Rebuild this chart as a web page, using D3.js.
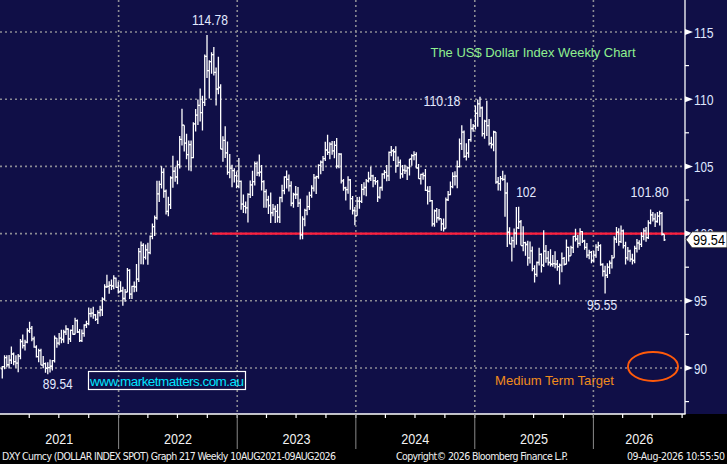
<!DOCTYPE html>
<html>
<head>
<meta charset="utf-8">
<script src="https://cdn.jsdelivr.net/npm/d3@7"></script>
<style>
html, body { margin: 0; padding: 0; background: #000; }
svg { display: block; font-family: "Liberation Sans", Arial, sans-serif; }
</style>
</head>
<body>
<div id="chart"></div>
<script>
'use strict';

// weekly DXY bars as [high, low, close], week ending friday, first week ends 8 Jan 2021
const firstWeek = new Date(2021, 0, 8);
const firstOpen = 89.94;

const dxy2021 = [
  [90.15,89.21,90.10],[90.95,89.91,90.77],[90.95,90.05,90.24],[90.96,89.97,90.58],
  [91.60,90.30,91.04],[91.15,90.20,90.48],[90.95,90.02,90.36],[91.05,89.68,90.88],
  [92.16,90.65,91.97],[92.50,91.45,91.67],[92.10,91.30,91.92],[92.96,91.85,92.77],
  [93.44,92.60,92.95],[93.12,91.99,92.17],[92.34,91.50,91.56],[91.70,90.79,90.85],
  [91.43,90.42,91.30],[91.44,90.20,90.22],[90.90,89.98,90.32],[90.40,89.65,89.98],
  [90.42,89.53,90.03],[90.63,89.66,90.13],[90.60,89.81,90.55],[92.41,90.40,92.23],
  [92.05,91.51,91.85],[92.61,91.70,92.23],[92.84,91.85,92.12],[92.84,91.88,92.68],
  [93.19,92.45,92.90],[92.95,91.78,92.17],[92.87,91.94,92.80],[93.20,92.47,92.51],
  [93.73,92.50,93.52],[93.60,92.61,92.68],[92.90,91.94,92.03],[92.86,91.94,92.58],
  [93.25,92.32,93.20],[93.52,92.97,93.30],[94.50,93.18,94.04],[94.45,93.78,94.08],
  [94.56,93.67,93.96],[94.02,93.50,93.62],[94.29,93.28,94.12],[94.63,93.84,94.33],
  [95.27,93.87,95.13],[96.24,95.00,96.04],[96.94,95.95,96.08],[96.46,95.52,96.15],
  [96.59,95.81,96.10],[96.91,95.86,96.68],[96.74,95.98,96.00],[96.41,95.54,95.67]
];
const dxy2022 = [
  [96.46,95.66,95.74],[96.05,94.63,95.17],[95.87,94.93,95.64],[97.44,95.67,97.27],
  [97.34,95.14,95.49],[96.12,95.14,96.07],[96.44,95.63,96.03],[97.73,95.67,96.61],
  [98.92,96.40,98.66],[99.42,97.72,99.12],[99.29,97.71,98.23],[99.19,98.07,98.79],
  [99.31,97.69,98.58],[99.85,98.47,99.80],[100.76,99.58,100.52],[101.35,99.82,101.18],
  [103.93,101.03,102.96],[103.93,102.35,103.66],[105.01,103.35,104.56],[104.86,102.66,103.15],
  [103.29,101.43,101.66],[102.74,101.30,102.15],[104.26,101.83,104.15],[105.79,103.41,104.64],
  [104.95,103.86,104.21],[105.43,103.67,105.13],[107.27,104.85,107.01],[109.29,106.56,108.07],
  [108.04,106.11,106.73],[107.43,105.54,105.88],[106.93,104.69,106.62],[106.93,104.64,105.65],
  [108.28,105.61,108.17],[109.27,107.59,108.82],[109.98,108.08,109.54],[110.79,108.35,109.00],
  [110.26,107.68,109.76],[113.33,109.49,113.19],[114.78,111.57,112.12],[112.90,110.05,112.80],
  [113.49,111.90,113.31],[113.89,111.76,111.99],[112.35,109.54,110.76],[113.15,110.37,110.87],
  [111.12,106.27,106.29],[107.25,105.34,106.93],[107.99,105.62,106.00],[106.86,104.37,104.55],
  [105.92,104.12,104.87],[105.12,103.44,104.69],[104.86,103.80,104.31],[104.62,103.38,103.52]
];
const dxy2023 = [
  [105.63,103.37,103.88],[103.95,101.77,102.20],[102.90,101.53,102.02],[102.38,101.50,101.92],
  [103.01,100.82,102.92],[103.96,102.64,103.63],[104.67,102.79,103.86],[105.36,103.57,105.21],
  [105.36,104.28,104.52],[105.88,104.25,104.58],[105.11,103.20,103.86],[103.97,101.92,103.12],
  [103.30,101.92,102.51],[102.82,101.45,102.09],[103.06,100.79,101.55],[102.21,101.29,101.83],
  [102.10,100.79,101.66],[102.21,100.82,101.22],[102.74,100.78,102.68],[103.63,102.33,103.20],
  [104.26,102.92,104.21],[104.70,103.36,104.04],[104.40,103.14,103.56],[103.90,102.04,102.26],
  [103.04,101.92,102.91],[103.54,102.57,102.91],[103.46,101.98,102.27],[102.59,99.57,99.91],
  [101.30,99.58,101.07],[101.84,100.55,101.73],[102.84,101.37,102.00],[103.12,101.75,102.84],
  [103.59,102.67,103.39],[104.44,103.13,104.14],[104.30,102.94,104.24],[105.16,104.08,105.08],
  [105.43,104.42,105.32],[105.78,104.66,105.58],[106.84,105.40,106.22],[107.35,105.85,106.04],
  [106.79,105.53,106.65],[106.89,105.86,106.16],[106.89,105.61,106.56],[107.11,104.84,105.02],
  [106.00,104.87,105.91],[105.97,103.72,103.92],[104.06,103.18,103.40],[103.48,102.46,103.27],
  [104.26,102.97,104.00],[104.07,101.77,102.60],[102.80,101.42,101.72],[101.98,100.62,101.33]
];
const dxy2024 = [
  [102.73,101.34,102.42],[102.75,101.85,102.40],[103.69,102.28,103.29],[103.82,102.86,103.43],
  [104.06,102.77,103.92],[104.60,103.80,104.10],[104.97,103.92,104.29],[104.37,103.44,103.94],
  [104.21,103.63,103.86],[103.99,102.35,102.71],[103.48,102.59,103.43],[104.49,103.19,104.43],
  [104.73,104.09,104.55],[105.10,103.89,104.30],[106.11,103.92,106.04],[106.52,105.76,106.15],
  [106.29,105.40,106.09],[106.49,104.52,105.03],[105.74,104.97,105.30],[105.51,104.08,104.45],
  [105.10,104.15,104.72],[105.12,104.43,104.67],[104.99,103.99,104.89],[105.53,104.32,105.55],
  [105.91,105.05,105.80],[106.13,105.46,105.87],[106.05,104.86,104.88],[105.18,104.08,104.09],
  [104.46,103.65,104.40],[104.55,104.01,104.32],[104.80,103.17,103.21],[103.53,102.16,103.14],
  [103.55,102.36,102.45],[102.50,100.53,100.72],[101.80,100.51,101.70],[101.90,100.81,101.18],
  [101.83,100.98,101.11],[101.09,100.21,100.72],[101.12,100.16,100.38],[102.69,100.58,102.52],
  [103.17,102.42,102.90],[103.87,102.85,103.49],[104.57,103.38,104.26],[104.63,103.57,104.28],
  [105.44,103.37,104.99],[107.07,104.92,106.69],[108.07,106.22,107.55],[107.67,105.64,105.74],
  [106.73,105.43,105.99],[107.04,105.65,106.99],[108.54,106.84,107.82],[108.16,107.58,108.00]
];
const dxy2025 = [
  [109.54,107.74,108.95],[109.97,107.95,109.65],[110.18,108.68,109.35],[109.45,107.23,107.44],
  [108.48,107.06,108.37],[109.88,107.26,108.04],[108.52,106.56,106.71],[107.20,106.34,106.63],
  [107.65,106.12,107.56],[107.39,103.70,103.84],[104.22,103.20,103.72],[104.28,103.19,104.09],
  [104.68,103.94,104.04],[104.37,101.26,103.02],[103.80,99.01,100.10],[100.47,99.21,99.23],
  [99.76,97.92,99.47],[100.38,98.94,100.03],[101.98,99.17,100.42],[102.00,100.35,100.88],
  [101.01,99.28,99.11],[100.54,98.69,99.33],[99.39,98.35,99.19],[99.47,97.60,98.19],
  [99.42,97.77,98.71],[99.04,97.20,97.40],[97.65,96.37,96.97],[97.92,96.79,97.85],
  [98.95,97.63,98.46],[98.54,97.11,97.65],[100.25,97.52,98.69],[99.16,97.84,98.18],
  [98.71,97.63,97.85],[98.84,97.55,97.72],[98.41,97.54,97.77],[98.68,97.42,97.73],
  [98.04,97.23,97.55],[97.78,96.22,97.65],[98.60,97.13,98.15],[98.26,97.62,97.72],
  [99.56,97.79,98.98],[99.03,97.92,98.35],[99.10,98.36,98.95],[99.84,98.56,99.80],
  [100.36,99.42,99.60],[99.90,98.95,99.28],[100.40,99.10,100.15],[100.20,99.30,99.45],
  [99.55,98.80,98.98],[99.30,98.20,98.40],[98.80,98.10,98.60],[98.70,97.80,98.00]
];
const dxy2026 = [
  [98.70,97.85,98.40],[99.20,98.20,99.00],[99.40,98.70,99.10],[99.20,97.60,97.70],
  [97.80,96.80,97.20],[97.60,95.55,96.90],[97.80,96.70,97.50],[98.00,97.00,97.80],
  [98.40,97.40,98.20],[99.80,98.40,99.60],[100.50,99.30,100.10],[100.40,99.10,99.40],
  [100.60,99.30,100.20],[100.30,98.90,99.10],[99.40,97.70,98.20],[99.00,98.00,98.70],
  [98.80,97.90,98.10],[98.50,97.70,98.00],[99.10,97.80,98.90],[99.60,98.60,99.30],
  [99.50,98.80,99.20],[100.10,99.00,99.80],[100.40,99.50,100.20],[100.50,99.40,99.70],
  [101.00,99.60,100.80],[101.80,100.70,101.40],[101.60,100.90,101.10],[101.50,100.50,100.90],
  [101.60,100.80,101.30],[101.70,100.60,101.50],[101.60,99.85,99.95],[99.95,99.45,99.54]
];

const yTicks = [90, 95, 100, 105, 110, 115];
const yMinor = [87.5, 92.5, 97.5, 102.5, 107.5, 112.5];
const years = [2021, 2022, 2023, 2024, 2025, 2026];
const supportLevel = 100;
const supportFrom = new Date(2022, 9, 16);
const targetLevel = 90;
const lastValue = 99.54;

const footerLeft = "DXY Curncy (DOLLAR INDEX SPOT) Graph 217 Weekly 10AUG2021-09AUG2026";
const footerMid = "Copyright\u00A9 2026 Bloomberg Finance L.P.";
const footerRight = "09-Aug-2026 10:55:50";

// ---- build bars
const weekly = [].concat(dxy2021, dxy2022, dxy2023, dxy2024, dxy2025, dxy2026);
const bars = weekly.map(function(d, i) {
  const open = i === 0 ? firstOpen : weekly[i - 1][2];
  return {
    date: d3.timeDay.offset(firstWeek, i * 7),
    open: open,
    high: Math.max(d[0], open, d[2]),
    low: Math.min(d[1], open, d[2]),
    close: d[2]
  };
});

const width = 727, height = 464;
const plotRight = 685, plotBottom = 414;

const x = d3.scaleTime()
  .domain([new Date(2021, 0, 1), new Date(2026, 0, 1)])
  .range([0, 593.4]);
const y = d3.scaleLinear().domain([90, 115]).range([368, 32]);

const svg = d3.select("#chart").append("svg")
  .attr("width", width)
  .attr("height", height);

svg.append("rect").attr("width", width).attr("height", height).attr("fill", "#000");
svg.append("rect").attr("width", width).attr("height", plotBottom).attr("fill", "#100f47");

// grid
const grid = svg.append("g")
  .attr("stroke", "#8c8c94")
  .attr("stroke-width", 1.6)
  .attr("stroke-dasharray", "2,3");
grid.selectAll("line.h").data(yTicks).enter().append("line")
  .attr("x1", 0).attr("x2", plotRight)
  .attr("y1", d => y(d)).attr("y2", d => y(d));
const yearStarts = years.slice(1).map(yr => new Date(yr, 0, 1));
grid.selectAll("line.v").data(yearStarts).enter().append("line")
  .attr("x1", d => x(d)).attr("x2", d => x(d))
  .attr("y1", 0).attr("y2", plotBottom);

// support line
svg.append("line")
  .attr("x1", x(supportFrom)).attr("x2", plotRight)
  .attr("y1", y(supportLevel)).attr("y2", y(supportLevel))
  .attr("stroke", "#ff1f3d").attr("stroke-width", 2.2);

// ohlc bars
const ohlc = svg.append("g").attr("stroke", "#fff").attr("stroke-width", 1.3).attr("fill", "none");
ohlc.selectAll("path").data(bars).enter().append("path")
  .attr("d", function(d) {
    const bx = x(d.date);
    return "M" + bx + "," + y(d.high) + "V" + y(d.low) +
      "M" + (bx - 1.4) + "," + y(d.open) + "H" + bx +
      "M" + bx + "," + y(d.close) + "H" + (bx + 1.4);
  });

// right axis
svg.append("line").attr("x1", plotRight).attr("x2", plotRight)
  .attr("y1", 0).attr("y2", plotBottom)
  .attr("stroke", "#fff").attr("stroke-width", 1.3);
const ra = svg.append("g");
ra.selectAll("path.tri").data(yTicks).enter().append("path")
  .attr("d", d => "M" + plotRight + "," + (y(d) - 3) + "L" + (plotRight + 8) + "," + y(d) + "L" + plotRight + "," + (y(d) + 3) + "Z")
  .attr("fill", "#fff");
ra.selectAll("line.minor").data(yMinor).enter().append("line")
  .attr("x1", plotRight).attr("x2", plotRight + 4)
  .attr("y1", d => y(d)).attr("y2", d => y(d))
  .attr("stroke", "#fff").attr("stroke-width", 1.2);
ra.selectAll("text").data(yTicks).enter().append("text")
  .attr("x", plotRight + 9).attr("y", d => y(d) + 5.5)
  .attr("fill", "#dfe6ff").attr("font-size", 14.5)
  .attr("textLength", d => String(d).length * 6.5)
  .attr("lengthAdjust", "spacingAndGlyphs")
  .text(d => d);

// bottom axis
svg.append("line").attr("x1", 0).attr("x2", plotRight + 0.6)
  .attr("y1", plotBottom).attr("y2", plotBottom)
  .attr("stroke", "#fff").attr("stroke-width", 1.4);
const quarters = d3.timeMonth.every(3).range(new Date(2021, 0, 1), new Date(2026, 9, 15))
  .filter(d => x(d) > 2 && x(d) < plotRight + 1);
svg.append("g").selectAll("line").data(quarters).enter().append("line")
  .attr("x1", d => x(d)).attr("x2", d => x(d))
  .attr("y1", plotBottom).attr("y2", plotBottom + 4)
  .attr("stroke", "#fff").attr("stroke-width", 1.2);
svg.append("g").selectAll("line").data(yearStarts).enter().append("line")
  .attr("x1", d => x(d)).attr("x2", d => x(d))
  .attr("y1", plotBottom).attr("y2", plotBottom + 35)
  .attr("stroke", "#8a8a8a").attr("stroke-width", 1);
svg.append("g").selectAll("text").data(years).enter().append("text")
  .attr("x", function(yr) {
    const a = Math.max(0, x(new Date(yr, 0, 1)));
    const b = Math.min(plotRight, x(new Date(yr + 1, 0, 1)));
    return (a + b) / 2;
  })
  .attr("y", 444)
  .attr("text-anchor", "middle")
  .attr("fill", "#f2f2f2").attr("font-size", 14.5)
  .attr("textLength", 28).attr("lengthAdjust", "spacingAndGlyphs")
  .text(d => d);

// footer
const foot = svg.append("g").attr("fill", "#f0f0f0").attr("font-size", 10.5)
  .attr("font-family", "'DejaVu Sans Condensed', 'Liberation Sans Narrow', sans-serif");
foot.append("text").attr("x", 2).attr("y", 460).attr("textLength", 334).text(footerLeft);
foot.append("text").attr("x", 396).attr("y", 460).attr("textLength", 172).text(footerMid);
foot.append("text").attr("x", 627).attr("y", 460).attr("textLength", 98).text(footerRight);

// annotations
const ann = svg.append("g").attr("fill", "#e3e9ff").attr("font-size", 14.5).attr("text-anchor", "middle");
function note(label, date, value, dx, dy, len) {
  ann.append("text")
    .attr("x", x(date) + dx).attr("y", y(value) + dy)
    .attr("textLength", len).attr("lengthAdjust", "spacingAndGlyphs")
    .text(label);
}
note("114.78", new Date(2022, 8, 30), 114.78, 3, -10, 36);
note("110.18", new Date(2025, 0, 17), 110.18, -38, 9.5, 37);
note("102", new Date(2025, 4, 16), 102, 7.5, -10, 20);
note("101.80", new Date(2026, 5, 26), 101.8, -1, -12.5, 38);
note("95.55", new Date(2026, 1, 6), 95.55, -3, 16.5, 30);
note("89.54", new Date(2021, 4, 28), 89.54, 10, 15, 30);

svg.append("text").attr("x", 533).attr("y", 57)
  .attr("text-anchor", "middle").attr("fill", "#8ff08f").attr("font-size", 13.5)
  .attr("textLength", 205).attr("lengthAdjust", "spacingAndGlyphs")
  .text("The US$ Dollar Index Weekly Chart");

// website box
svg.append("rect").attr("x", 88.5).attr("y", 371.5).attr("width", 157).attr("height", 18)
  .attr("fill", "none").attr("stroke", "#fff").attr("stroke-width", 1.2);
svg.append("text").attr("x", 90).attr("y", 386)
  .attr("fill", "#00e4ff").attr("font-size", 13.5).attr("textLength", 154)
  .text("www.marketmatters.com.au");

// target
svg.append("ellipse").attr("cx", 653).attr("cy", y(targetLevel) - 1.5)
  .attr("rx", 25).attr("ry", 14.5)
  .attr("fill", "none").attr("stroke", "#ff5a0a").attr("stroke-width", 2);
svg.append("text").attr("x", 495).attr("y", 384.5)
  .attr("fill", "#f08c1c").attr("font-size", 13.5)
  .attr("textLength", 119).attr("lengthAdjust", "spacingAndGlyphs")
  .text("Medium Term Target");

// last price tag
const ty = y(lastValue);
svg.append("path")
  .attr("d", "M686," + ty + "L692," + (ty - 8) + "H727V" + (ty + 8) + "H692Z")
  .attr("fill", "#fff").attr("stroke", "#222").attr("stroke-width", 0.8);
svg.append("text").attr("x", 693).attr("y", ty + 5.5)
  .attr("fill", "#000").attr("font-size", 14.5)
  .attr("textLength", 32).attr("lengthAdjust", "spacingAndGlyphs")
  .text(lastValue.toFixed(2));
</script>
</body>
</html>
